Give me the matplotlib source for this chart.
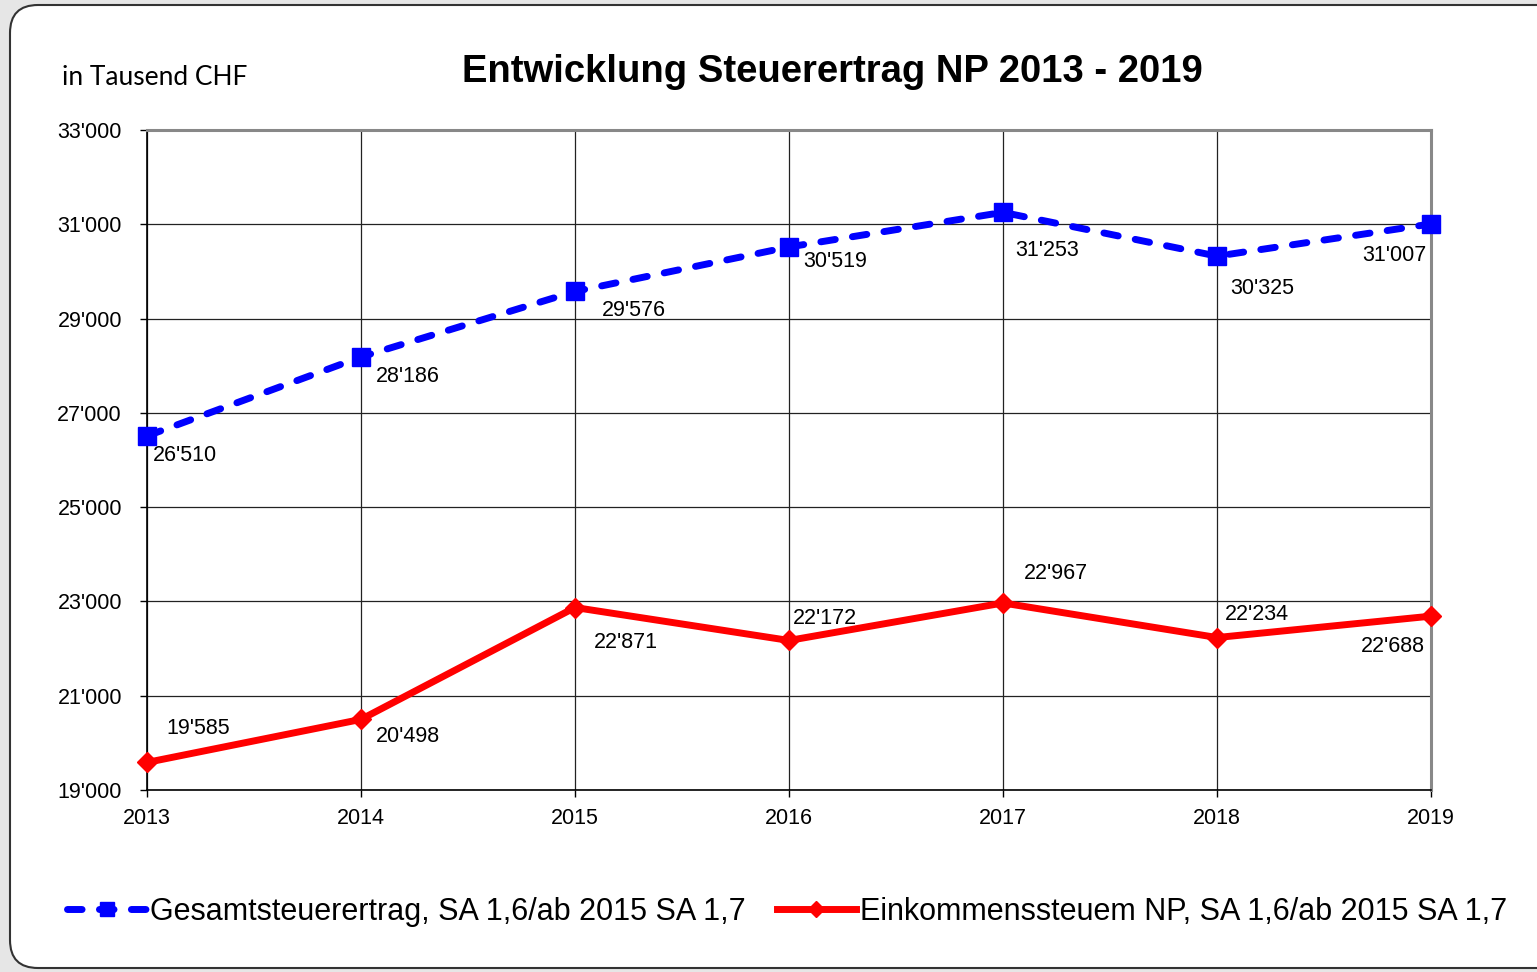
import matplotlib
matplotlib.use("Agg")
import matplotlib.pyplot as plt
from matplotlib.patches import FancyBboxPatch
from matplotlib.ticker import FuncFormatter

years = [2013, 2014, 2015, 2016, 2017, 2018, 2019]
gesamt = [26510, 28186, 29576, 30519, 31253, 30325, 31007]
einkommen = [19585, 20498, 22871, 22172, 22967, 22234, 22688]

label_gesamt = "Gesamtsteuerertrag, SA 1,6/ab 2015 SA 1,7"
label_einkommen = "Einkommenssteuem NP, SA 1,6/ab 2015 SA 1,7"

# label offsets in pixels (dx, dy), dy positive = up
off_gesamt = [(6, -20), (15, -20), (27, -19), (14, -15), (12, -38), (13, -32), (-5, -32)]
off_einkommen = [(19, 34), (15, -17), (19, -35), (4, 22), (21, 29), (8, 23), (-6, -30)]


def swiss(v, pos=None):
    return f"{int(round(v)):,}".replace(",", "'")


plt.rcParams['font.family'] = ['Liberation Sans', 'DejaVu Sans']

fig = plt.figure(figsize=(15.37, 9.72), dpi=100)
fig.patch.set_facecolor('#e6e6e6')
# rounded white panel, in pixels (runs off the right edge like the original)
frame = FancyBboxPatch((10, 4), 1560, 963,
                       boxstyle="round,pad=0,rounding_size=28",
                       transform=None, facecolor='white',
                       edgecolor='#333333', linewidth=1.5, zorder=-10)
fig.patches.append(frame)

ax = fig.add_axes([147 / 1537, 1 - 790 / 972, (1431 - 147) / 1537, (790 - 130) / 972])
ax.set_facecolor('none')
ax.set_zorder(1)

ax.plot(years, gesamt, color='#0000ff', lw=5, ls=(0, (2.1, 2.5)), dash_capstyle='round',
        marker='s', ms=13, clip_on=False, zorder=5, label=label_gesamt)
ax.plot(years, einkommen, color='#ff0000', lw=5, marker='D', ms=10,
        clip_on=False, zorder=5, label=label_einkommen)

for x, y, (dx, dy) in zip(years, gesamt, off_gesamt):
    ax.annotate(swiss(y), (x, y), xytext=(dx, dy), textcoords='offset pixels',
                ha='right' if dx < 0 else 'left', va='center', fontsize=15.5)
for x, y, (dx, dy) in zip(years, einkommen, off_einkommen):
    ax.annotate(swiss(y), (x, y), xytext=(dx, dy), textcoords='offset pixels',
                ha='right' if dx < 0 else 'left', va='center', fontsize=15.5)

ax.set_xlim(2013, 2019)
ax.set_ylim(19000, 33000)
ax.set_xticks(years)
ax.set_yticks(range(19000, 33001, 2000))
ax.yaxis.set_major_formatter(FuncFormatter(swiss))
ax.grid(True, color='#222222', lw=0.9)
ax.tick_params(axis='both', direction='out', length=5, width=1, labelsize=15.5)
ax.tick_params(axis='y', pad=13)
ax.tick_params(axis='x', pad=8)
for side in ['left', 'bottom']:
    ax.spines[side].set_color('black')
    ax.spines[side].set_linewidth(1.2)
for side in ['top', 'right']:
    ax.spines[side].set_color('#888888')
    ax.spines[side].set_linewidth(2.2)

fig.text(832 / 1537, 1 - 72 / 972, "Entwicklung Steuerertrag NP 2013 - 2019",
         ha='center', va='center', fontsize=27.5, fontweight='bold')
fig.text(62 / 1537, 1 - 77 / 972, "in Tausend CHF", ha='left', va='center',
         fontsize=19, family=['Lato', 'DejaVu Sans'])

fig.legend(loc='center', bbox_to_anchor=(787 / 1537, 1 - 912 / 972), ncol=2,
           frameon=False, fontsize=22, handlelength=2.6, handletextpad=0.12,
           columnspacing=1.0, markerscale=0.8)

fig.savefig("out.png", dpi=100, facecolor=fig.get_facecolor())
